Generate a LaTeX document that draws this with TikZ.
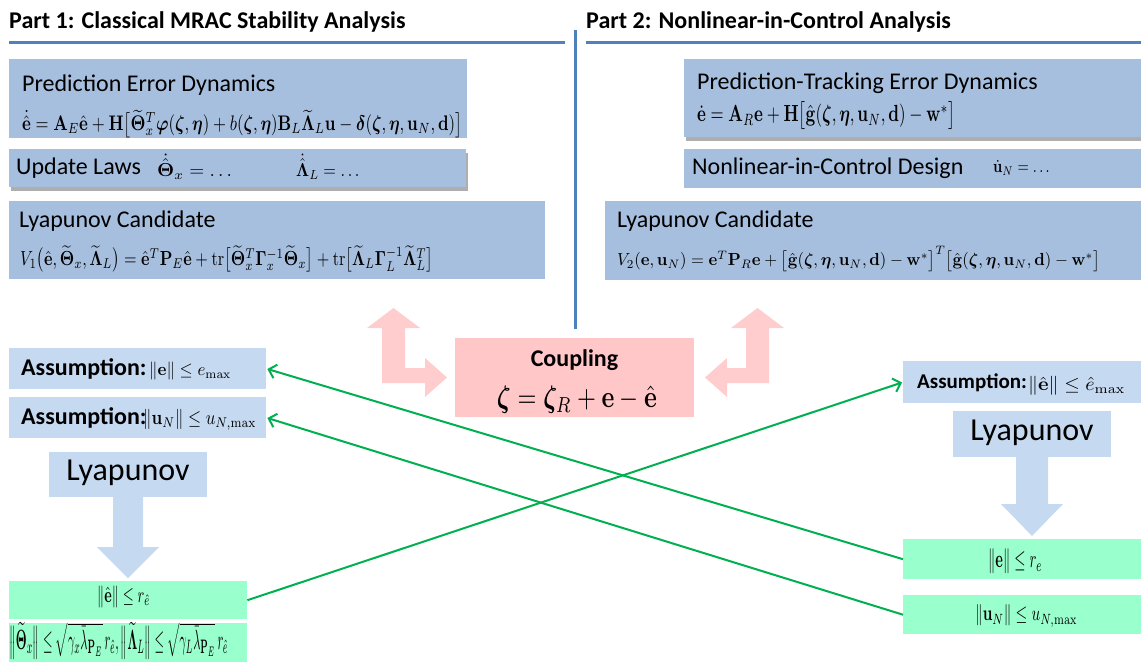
\documentclass[tikz,border=0pt]{standalone}
\usepackage{amsmath}
\usepackage{bm}
\usepackage{graphicx}
\usepackage[no-math]{fontspec}
\setmainfont{Carlito}
\usetikzlibrary{arrows.meta,shadows}
\definecolor{boxblue}{RGB}{167,191,222}
\definecolor{lightblue}{RGB}{197,217,241}
\definecolor{mintgreen}{RGB}{153,255,204}
\definecolor{pinkbox}{RGB}{255,199,199}
\definecolor{pinkarrow}{RGB}{255,205,205}
\definecolor{lineblue}{RGB}{79,129,189}
\definecolor{linegreen}{RGB}{0,176,80}
\newcommand{\fw}[3]{\resizebox*{#1}{#2}{#3}}
\newcommand{\vb}[1]{\mathbf{#1}}
\begin{document}
\begin{tikzpicture}[x=1pt,y=-1pt,
  bbox/.style={fill=boxblue, draw=none, inner sep=0pt, anchor=north west},
  abox/.style={fill=lightblue, draw=none, inner sep=0pt, anchor=north west},
  gbox/.style={fill=mintgreen, draw=none, inner sep=0pt, anchor=north west},
  shade/.style={drop shadow={shadow xshift=2pt, shadow yshift=-4pt, opacity=0.45, fill=black!70}},
  txt/.style={anchor=west, inner sep=0pt},
  lbl/.style={anchor=west, inner sep=0pt, font=\fontsize{24}{28}\selectfont},
  ttl/.style={anchor=west, inner sep=0pt, font=\fontsize{24}{28}\selectfont\bfseries},
  big/.style={anchor=center, inner sep=0pt, font=\fontsize{32}{38}\selectfont},
  bluerule/.style={draw=lineblue, line width=3pt},
  gline/.style={draw=linegreen, line width=2pt, shorten >=1pt, -{Straight Barb[length=7pt,width=14pt,line width=2pt]}},
  pinkarr/.style={fill=pinkarrow, draw=none},
  bluearr/.style={fill=lightblue, draw=none}
]
\useasboundingbox (0,0) rectangle (1141,662);

% titles and rules
\node[ttl] (t1) at (9,22) {Part 1: Classical MRAC Stability Analysis};
\node[ttl] (t2) at (586,22) {Part 2: Nonlinear-in-Control Analysis};
\draw[bluerule] (9,42) -- (565,42);
\draw[bluerule] (586,42) -- (1141,42);
\draw[bluerule] (575,30) -- (575,329);

% Part 1 boxes
\node[bbox, minimum width=458pt, minimum height=79pt] (pe) at (9,59) {};
\node[lbl] (pet) at (22,85) {Prediction Error Dynamics};
\node[txt] (pee) at (22,124) {\fw{440pt}{28pt}{$\dot{\hat{\vb e}} = \vb A_E\hat{\vb e} + \vb H\bigl[\widetilde{\vb\Theta}_x^T\bm\varphi(\bm\zeta,\bm\eta) + b(\bm\zeta,\bm\eta)\vb B_L\widetilde{\vb\Lambda}_L\vb u - \bm\delta(\bm\zeta,\bm\eta,\vb u_N,\vb d)\bigr]$}};

\node[bbox, shade, minimum width=457pt, minimum height=38pt] (ul) at (9,149) {};
\node[lbl] (ult) at (16,168) {Update Laws};
\node[txt] (ule1) at (157,167) {\fw{78pt}{25pt}{$\dot{\hat{\vb\Theta}}_x = \dots$}};
\node[txt] (ule2) at (296,167) {\fw{66pt}{25pt}{$\dot{\hat{\vb\Lambda}}_L = \dots$}};

\node[bbox, minimum width=536pt, minimum height=78pt] (lc) at (9,201) {};
\node[lbl] (lct) at (19,221) {Lyapunov Candidate};
\node[txt] (lce) at (20,259) {\fw{413pt}{27pt}{$V_1\bigl(\hat{\vb e},\widetilde{\vb\Theta}_x,\widetilde{\vb\Lambda}_L\bigr) = \hat{\vb e}^T\vb P_E\hat{\vb e} + \mathrm{tr}\bigl[\widetilde{\vb\Theta}_x^T\vb\Gamma_x^{-1}\widetilde{\vb\Theta}_x\bigr] + \mathrm{tr}\bigl[\widetilde{\vb\Lambda}_L\vb\Gamma_L^{-1}\widetilde{\vb\Lambda}_L^T\bigr]$}};

% Part 2 boxes
\node[bbox, shade, minimum width=457pt, minimum height=78pt] (pt) at (684,59) {};
\node[lbl] (ptt) at (697,83) {Prediction-Tracking Error Dynamics};
\node[txt] (pte) at (697,116) {\fw{258pt}{28pt}{$\dot{\vb e} = \vb A_R\vb e + \vb H\bigl[\hat{\vb g}(\bm\zeta,\bm\eta,\vb u_N,\vb d) - \vb w^*\bigr]$}};

\node[bbox, minimum width=457pt, minimum height=39pt] (nd) at (684,149) {};
\node[lbl] (ndt) at (692,168) {Nonlinear-in-Control Design};
\node[txt] (nde) at (993,168) {\fw{59pt}{15pt}{$\dot{\vb u}_N = \dots$}};

\node[bbox, minimum width=536pt, minimum height=79pt] (rc) at (605,201) {};
\node[lbl] (rct) at (617,221) {Lyapunov Candidate};
\node[txt] (rce) at (617,259) {\fw{483pt}{25pt}{$V_2(\vb e,\vb u_N) = \vb e^T\vb P_R\vb e + \bigl[\hat{\vb g}(\bm\zeta,\bm\eta,\vb u_N,\vb d) - \vb w^*\bigr]^T\bigl[\hat{\vb g}(\bm\zeta,\bm\eta,\vb u_N,\vb d) - \vb w^*\bigr]$}};

% coupling
\node[fill=pinkbox, inner sep=0pt, anchor=north west, minimum width=239pt, minimum height=79pt] (cp) at (455,338) {};
\node[anchor=center, inner sep=0pt, font=\fontsize{24}{28}\selectfont\bfseries] (cpt) at (574.5,360) {Coupling};
\node[anchor=center, inner sep=0pt] (cpe) at (577,400) {\fw{160pt}{28pt}{$\bm\zeta = \bm\zeta_R + \vb e - \hat{\vb e}$}};

% pink bent arrows
\fill[pinkarr] (393.5,308) -- (420,328) -- (405,328) -- (405,368) -- (425,368) -- (425,358) -- (447,377.5) -- (425,397) -- (425,383) -- (382,383) -- (382,328) -- (367,328) -- cycle;
\fill[pinkarr] (757.5,308) -- (784,328) -- (769,328) -- (769,383) -- (727,383) -- (727,397) -- (705,377.5) -- (727,358) -- (727,368) -- (746,368) -- (746,328) -- (731,328) -- cycle;

% left assumptions
\node[abox, minimum width=257pt, minimum height=41pt] (la1) at (9,348) {};
\node[txt] (la1t) at (21,369) {\fontsize{24}{28}\selectfont\bfseries Assumption:};
\node[txt] (la1e) at (149,371) {\fw{82pt}{18pt}{$\|\vb e\|\le e_{\max}$}};
\node[abox, minimum width=257pt, minimum height=41pt] (la2) at (9,397) {};
\node[txt] (la2t) at (21,418) {\fontsize{24}{28}\selectfont\bfseries Assumption:};
\node[txt] (la2e) at (143,420) {\fw{113pt}{21pt}{$\|\vb u_N\|\le u_{N,\max}$}};

% left lyapunov
\node[abox, minimum width=158pt, minimum height=45pt] (ll) at (49,452) {};
\node[big] (llt) at (128,473) {Lyapunov};
\fill[bluearr] (113,497) -- (143,497) -- (143,547) -- (159,547) -- (128,578) -- (97,547) -- (113,547) -- cycle;

% left results
\node[gbox, minimum width=238pt, minimum height=38pt] (lg1) at (9,581) {};
\node[txt] (lg1e) at (97,597) {\fw{53pt}{22pt}{$\|\hat{\vb e}\|\le r_{\hat e}$}};
\node[gbox, minimum width=238pt, minimum height=39pt] (lg2) at (9,623) {};
\node[txt] (lg2e) at (9,641) {\fw{219pt}{37pt}{$\bigl\|\widetilde{\vb\Theta}_x\bigr\|\le\sqrt{\gamma_x\bar\lambda_{\vb P_E}}\,r_{\hat e},\bigl\|\widetilde{\vb\Lambda}_L\bigr\|\le\sqrt{\gamma_L\bar\lambda_{\vb P_E}}\,r_{\hat e}$}};

% right assumption
\node[abox, minimum width=238pt, minimum height=42pt] (ra) at (903,361) {};
\node[txt] (rat) at (917,383) {\fontsize{21}{25}\selectfont\bfseries Assumption:};
\node[txt] (rae) at (1028,386) {\fw{97pt}{19pt}{$\|\hat{\vb e}\|\le\hat e_{\max}$}};

% right lyapunov
\node[abox, minimum width=158pt, minimum height=46pt] (rl) at (953,411) {};
\node[big] (rlt) at (1032,433) {Lyapunov};
\fill[bluearr] (1016,457) -- (1048,457) -- (1048,504) -- (1063,504) -- (1032,536) -- (1001,504) -- (1016,504) -- cycle;

% right results
\node[gbox, minimum width=238pt, minimum height=40pt] (rg1) at (903,539) {};
\node[txt] (rg1e) at (988,561) {\fw{54pt}{25pt}{$\|\vb e\|\le r_e$}};
\node[gbox, minimum width=238pt, minimum height=39pt] (rg2) at (903,595) {};
\node[txt] (rg2e) at (975,616) {\fw{102pt}{22pt}{$\|\vb u_N\|\le u_{N,\max}$}};

% connectors
\draw[gline] (rg1.west) -- (la1.east);
\draw[gline] (rg2.west) -- (la2.east);
\draw[gline] (lg1.east) -- (ra.west);
\end{tikzpicture}
\end{document}
